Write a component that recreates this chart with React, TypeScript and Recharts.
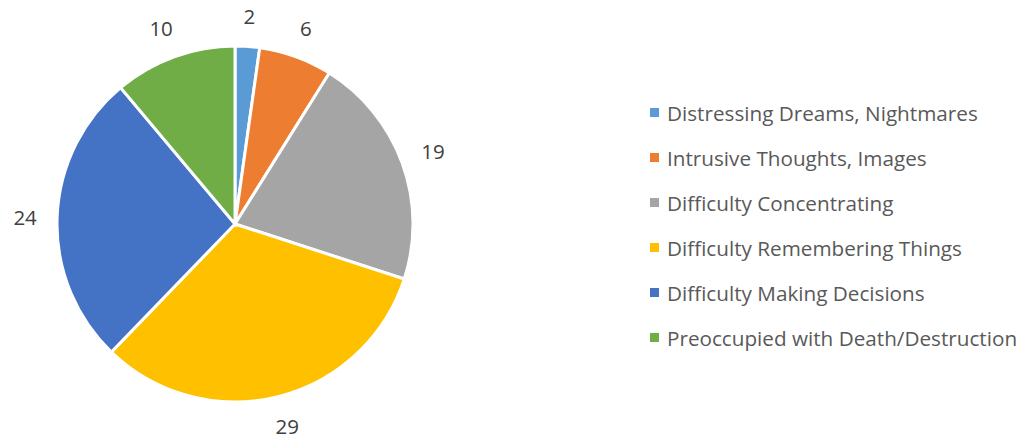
import { PieChart, Pie, Cell, Legend } from "recharts";

const categories = [
  "Distressing Dreams, Nightmares",
  "Intrusive Thoughts, Images",
  "Difficulty Concentrating",
  "Difficulty Remembering Things",
  "Difficulty Making Decisions",
  "Preoccupied with Death/Destruction",
];
const counts = [2, 6, 19, 29, 24, 10];
const colors = ["#5B9BD5", "#ED7D31", "#A5A5A5", "#FFC000", "#4472C4", "#70AD47"];

const data = categories.map((name, i) => ({ name, value: counts[i] }));

const FONT = "'Open Sans', sans-serif";
const RAD = Math.PI / 180;

const clamp = (v: number) => Math.max(-1, Math.min(1, v));

const renderLabel = (props: any) => {
  const { cx, cy, midAngle, outerRadius, value } = props;
  // recharts angles are counter-clockwise from 3 o'clock
  const a = -midAngle * RAD;
  const r = outerRadius + 20;
  const txt = String(value);
  const hw = txt.length * 6;
  const hh = 10;
  const x = cx + r * Math.cos(a) + hw * clamp(Math.cos(a) * 1.5);
  const y = cy + r * Math.sin(a) + hh * clamp(Math.sin(a) * 1.5);
  return (
    <text x={x} y={y} fill="#404040" fontSize={20.5} fontFamily={FONT} textAnchor="middle" dominantBaseline="central">
      {txt}
    </text>
  );
};

// legend drawn from our own arrays so the order stays as in the source
const LegendBox = () => (
  <div style={{ fontFamily: FONT, fontSize: 20.7, color: "#595959", whiteSpace: "nowrap" }}>
    {categories.map((c, i) => (
      <div key={c} style={{ display: "flex", alignItems: "center", height: 45 }}>
        <span style={{ width: 9, height: 9, background: colors[i], display: "inline-block", marginRight: 8 }} />
        <span>{c}</span>
      </div>
    ))}
  </div>
);

export default function App() {
  return (
    <div style={{ position: "absolute", left: 0, top: 0, background: "#fff" }}>
      <PieChart width={1033} height={440} margin={{ top: 0, right: 0, bottom: 0, left: 0 }}>
        <Pie
          data={data}
          dataKey="value"
          nameKey="name"
          cx={235}
          cy={224}
          outerRadius={178}
          startAngle={90}
          endAngle={-270}
          stroke="#fff"
          strokeWidth={3}
          label={renderLabel}
          labelLine={false}
          isAnimationActive={false}
        >
          {data.map((d, i) => (
            <Cell key={d.name} fill={colors[i]} />
          ))}
        </Pie>
        <Legend
          layout="vertical"
          verticalAlign="middle"
          align="right"
          content={LegendBox}
          wrapperStyle={{ left: 650, top: 90, right: "auto", width: 380 }}
        />
      </PieChart>
    </div>
  );
}
